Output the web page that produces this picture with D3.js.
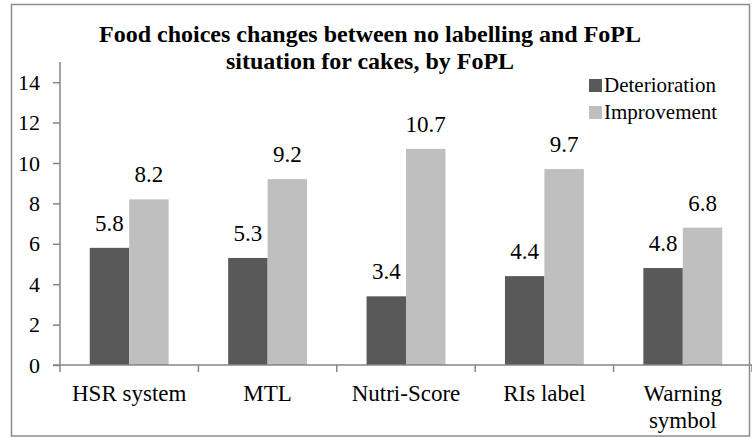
<!DOCTYPE html>
<html>
<head>
<meta charset="utf-8">
<script src="https://cdn.jsdelivr.net/npm/d3@7"></script>
<style>
  body { margin: 0; background: #fff; }
</style>
</head>
<body>
<div id="chart"></div>
<script>
var categories = ['HSR system', 'MTL', 'Nutri-Score', 'RIs label', 'Warning symbol'];
var seriesNames = ['Deterioration', 'Improvement'];
var deterioration = [5.8, 5.3, 3.4, 4.4, 4.8];
var improvement = [8.2, 9.2, 10.7, 9.7, 6.8];
var yTicks = [0, 2, 4, 6, 8, 10, 12, 14];
var titleLines = ['Food choices changes between no labelling and FoPL', 'situation for cakes, by FoPL'];

var width = 752, height = 438;
var plot = {left: 60, right: 752, top: 62, bottom: 365};
var serif = '"Liberation Serif", "Times New Roman", Times, serif';

var rows = categories.map((c, i) => ({cat: c, values: [deterioration[i], improvement[i]]}));

var colorScale = d3.scaleOrdinal().domain(seriesNames).range(['#595959', '#bfbfbf']);

var xScale = d3.scaleBand().domain(categories)
                .range([plot.left, plot.right])
                .paddingInner(0.43).paddingOuter(0.215);
var xInner = d3.scaleBand().domain([0, 1]).range([0, xScale.bandwidth()]);
var yScale = d3.scaleLinear().domain([0, 15]).range([plot.bottom, plot.top]);

var svg = d3.select('#chart').append('svg')
            .attr('width', width)
            .attr('height', height)
            .attr('font-family', serif)
            .style('font-family', serif);

// outer frame
svg.append('rect')
   .attr('x', 11.5).attr('y', 4.5)
   .attr('width', 738).attr('height', 431.5)
   .style('fill', 'none')
   .style('stroke', '#8c8c8c')
   .style('stroke-width', 1.5);

// title
svg.append('text')
   .attr('x', 370)
   .attr('y', 41.5)
   .style('font-family', serif)
   .style('font-size', '24px')
   .style('font-weight', 'bold')
   .attr('text-anchor', 'middle')
   .selectAll('tspan')
   .data(titleLines)
   .join('tspan')
   .attr('x', 370)
   .attr('dy', (d, i) => i ? 27 : 0)
   .text(d => d);

// bars
var groups = svg.selectAll('g.cat')
                .data(rows)
                .join('g')
                .attr('class', 'cat')
                .attr('transform', d => 'translate(' + xScale(d.cat) + ',0)');

groups.selectAll('rect')
      .data(d => d.values)
      .join('rect')
      .attr('x', (d, i) => xInner(i))
      .attr('width', xInner.bandwidth())
      .attr('y', d => yScale(d))
      .attr('height', d => yScale(0) - yScale(d))
      .style('fill', (d, i) => colorScale(seriesNames[i]));

groups.selectAll('text.val')
      .data(d => d.values)
      .join('text')
      .attr('class', 'val')
      .attr('x', (d, i) => xInner(i) + xInner.bandwidth() / 2)
      .attr('y', d => yScale(d) - 17)
      .attr('text-anchor', 'middle')
      .style('font-family', serif)
      .style('font-size', '23px')
      .text(d => d.toFixed(1));

// y axis
var yAxis = d3.axisLeft(yScale).tickValues(yTicks).tickSize(7).tickPadding(13);
var gy = svg.append('g').attr('transform', 'translate(' + plot.left + ',0)').call(yAxis);
gy.attr('font-family', serif);
gy.select('.domain').attr('d', 'M0,' + plot.top + 'V' + plot.bottom);
gy.selectAll('line, path').style('stroke', '#868686').style('stroke-width', 1.5);
gy.selectAll('text').style('font-family', serif).style('font-size', '22px').style('fill', '#000');

// x axis, ticks at category boundaries
var bounds = d3.range(categories.length + 1).map(i => xScale.range()[0] + i * xScale.step());
svg.append('line')
   .attr('x1', plot.left - 7).attr('x2', plot.right)
   .attr('y1', yScale(0)).attr('y2', yScale(0))
   .style('stroke', '#868686').style('stroke-width', 1.5);
svg.selectAll('line.xtick')
   .data(bounds)
   .join('line')
   .attr('class', 'xtick')
   .attr('x1', d => d).attr('x2', d => d)
   .attr('y1', yScale(0)).attr('y2', yScale(0) + 7)
   .style('stroke', '#868686').style('stroke-width', 1.5);

svg.selectAll('text.cat')
   .data(categories)
   .join('text')
   .attr('class', 'cat')
   .attr('text-anchor', 'middle')
   .attr('y', 401)
   .style('font-family', serif)
   .style('font-size', '23px')
   .each(function(d) {
       var cx = xScale(d) + xScale.bandwidth() / 2;
       var words = d === 'Warning symbol' ? ['Warning', 'symbol'] : [d];
       d3.select(this).selectAll('tspan')
         .data(words)
         .join('tspan')
         .attr('x', cx)
         .attr('dy', (w, i) => i ? 27 : 0)
         .text(w => w);
   });

// legend
var legend = svg.append('g').attr('transform', 'translate(589,0)');
var items = legend.selectAll('g')
                  .data(seriesNames)
                  .join('g')
                  .attr('transform', (d, i) => 'translate(0,' + (79 + i * 27) + ')');
items.append('rect')
     .attr('width', 13).attr('height', 13)
     .style('fill', d => colorScale(d));
items.append('text')
     .attr('x', 15)
     .attr('y', 12.5)
     .style('font-family', serif)
     .style('font-size', '21px')
     .text(d => d);
</script>
</body>
</html>
